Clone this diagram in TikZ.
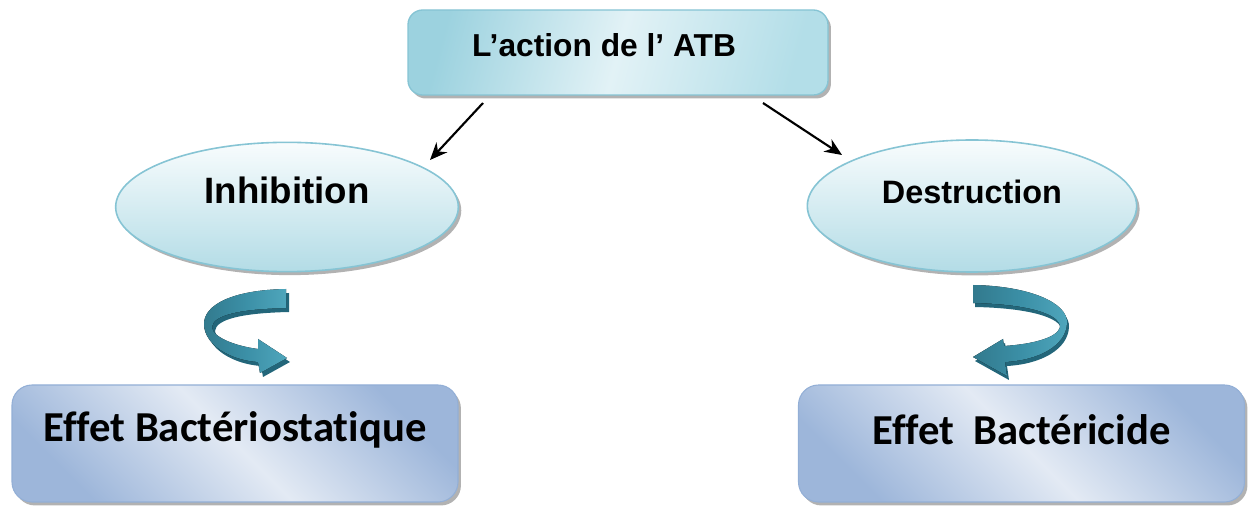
\documentclass[tikz,border=0pt]{standalone}
\usepackage{fontspec}
\newfontfamily\arialbf{Liberation Sans}
\newfontfamily\calibf{Carlito}[Ligatures={NoCommon,NoContextual},Contextuals=NoAlternate]
\usetikzlibrary{shapes.geometric,shadows,arrows.meta}

\definecolor{cyanedge}{HTML}{86C4D4}
\definecolor{cyandark}{HTML}{9CD2DF}
\definecolor{cyanlight}{HTML}{E2F2F6}
\definecolor{cyanright}{HTML}{B3DEE8}
\definecolor{elltop}{HTML}{F8FCFD}
\definecolor{ellbottom}{HTML}{B3DCE6}
\definecolor{blueedge}{HTML}{93AFD6}
\definecolor{bluedark}{HTML}{9DB6DA}
\definecolor{bluelight}{HTML}{E3EAF4}
\definecolor{tealmain}{HTML}{3B8FA6}
\definecolor{teallight}{HTML}{4FA6BC}
\definecolor{tealdark}{HTML}{23667A}

\begin{document}
\begin{tikzpicture}[x=0.75pt,y=-0.75pt,
  softshadow/.style={drop shadow={shadow xshift=2.2pt,shadow yshift=-2.6pt,fill=black!55,opacity=0.55}},
  topbox/.style={draw=cyanedge,line width=1pt,rounded corners=11pt,
    minimum width=315pt,minimum height=63.75pt,inner sep=0pt,
    left color=cyandark,right color=cyanright,middle color=cyanlight,
    shading angle=75,softshadow},
  ovalbox/.style={ellipse,draw=cyanedge,line width=1.2pt,inner sep=0pt,
    top color=elltop,bottom color=ellbottom,softshadow},
  effetbox/.style={draw=blueedge,line width=0.8pt,rounded corners=15pt,
    minimum width=334.5pt,minimum height=87.75pt,inner sep=0pt,
    top color=bluedark,bottom color=bluedark,middle color=bluelight,
    shading angle=-45,softshadow},
  sanslabel/.style={font=\arialbf\bfseries,inner sep=0pt},
  effetlabel/.style={font=\calibf\bfseries\fontsize{32}{36}\selectfont,inner sep=0pt},
  pointer/.style={line width=1.6pt,-{Stealth[length=13pt,width=11pt]}},
  ribbon/.style={left color=tealmain!85!black,right color=teallight,middle color=tealmain},
  ribbonside/.style={fill=tealdark},
]
\useasboundingbox (0,0) rectangle (1254,509);

% top box
\node[topbox] (atb) at (618,52.5) {};
\node[sanslabel,font=\arialbf\bfseries\fontsize{23.8}{28}\selectfont] (atbtext) at (604,45) {L’action de l’ ATB};

% ellipses
\node[ovalbox,minimum width=257pt,minimum height=97pt] (inhib) at (287,207) {};
\node[sanslabel,font=\arialbf\bfseries\fontsize{27.5}{32}\selectfont] (inhibtext) at (287,190) {Inhibition};
\node[ovalbox,minimum width=247pt,minimum height=99pt] (destr) at (972,206) {};
\node[sanslabel,font=\arialbf\bfseries\fontsize{24.3}{28}\selectfont] (destrtext) at (972,192) {Destruction};

% bottom boxes
\node[effetbox] (stat) at (235,443.5) {};
\node[effetlabel] (stattext) at (235,430) {Effet Bactériostatique};
\node[effetbox] (cide) at (1021.5,443.5) {};
\node[effetlabel] (cidetext) at (1021.5,430) {Effet~~Bactéricide};

% pointers from the top box
\coordinate (leftstart) at (483,103);
\coordinate (leftend) at (430,160);
\coordinate (rightstart) at (763,103);
\coordinate (rightend) at (842,155);
\draw[pointer] (leftstart) -- (leftend);
\draw[pointer] (rightstart) -- (rightend);

% curved ribbon arrow, left
\begin{scope}[shift={(3,4)}]
\fill[ribbonside] (286,289) .. controls (232,290) and (203,305) .. (204,325)
  .. controls (205,345) and (230,360) .. (258,362) -- (260,373) -- (287,358)
  -- (258,339) -- (258,349) .. controls (235,346) and (212,337) .. (212,327)
  .. controls (213,315) and (240,309) .. (286,308) -- cycle;
\end{scope}
\fill[ribbon] (286,289) .. controls (232,290) and (203,305) .. (204,325)
  .. controls (205,345) and (230,360) .. (258,362) -- (260,373) -- (287,358)
  -- (258,339) -- (258,349) .. controls (235,346) and (212,337) .. (212,327)
  .. controls (213,315) and (240,309) .. (286,308) -- cycle;

% curved ribbon arrow, right
\begin{scope}[shift={(2,4)}]
\fill[ribbonside] (973,285) .. controls (1030,286) and (1068,303) .. (1067,323)
  .. controls (1066,345) and (1040,360) .. (1005,362) -- (1007,376) -- (973,357)
  -- (1003,339) -- (1004,346) .. controls (1035,344) and (1058,337) .. (1060,327)
  .. controls (1060,313) and (1025,304) .. (973,303) -- cycle;
\end{scope}
\fill[ribbon] (973,285) .. controls (1030,286) and (1068,303) .. (1067,323)
  .. controls (1066,345) and (1040,360) .. (1005,362) -- (1007,376) -- (973,357)
  -- (1003,339) -- (1004,346) .. controls (1035,344) and (1058,337) .. (1060,327)
  .. controls (1060,313) and (1025,304) .. (973,303) -- cycle;
\end{tikzpicture}
\end{document}
